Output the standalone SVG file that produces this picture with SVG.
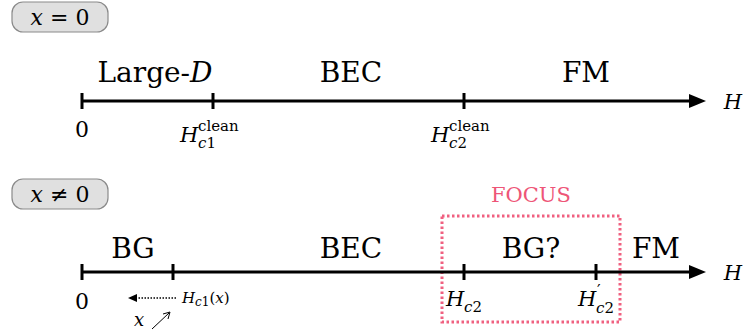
<svg xmlns="http://www.w3.org/2000/svg" width="746" height="336" viewBox="0 0 746 336" font-family="'DejaVu Serif','Liberation Serif','Noto Serif',serif">
<style>
text{font-family:"DejaVu Serif","Liberation Serif","Noto Serif",serif;fill:#000}
.big{font-size:28px}
.lab{font-size:21px;font-style:italic}
.ax{stroke:#000;stroke-width:3;fill:none}
.tick{stroke:#000;stroke-width:3}
.pill{fill:#e0e0e0;stroke:#8a8a8a;stroke-width:1.2}
.sup{font-size:15px;font-style:normal}
.sub{font-size:15px;font-style:italic}
</style>

<g id="label-x0">
<rect class="pill" x="12" y="2" width="96" height="30" rx="11"/>
<text x="60" y="25" font-size="22" text-anchor="middle"><tspan font-style="italic">x</tspan> = 0</text>
</g>

<g id="axis-top">
<line class="ax" x1="82" y1="101" x2="692" y2="101"/>
<path d="M689,94 L706,101 L689,108 z" fill="#000"/>
<line class="tick" x1="82" y1="93" x2="82" y2="109"/>
<line class="tick" x1="213" y1="93" x2="213" y2="109"/>
<line class="tick" x1="464" y1="93" x2="464" y2="109"/>
<text class="lab" x="733" y="109" text-anchor="middle">H</text>
<text x="82" y="137" font-size="22" text-anchor="middle">0</text>
<text x="180" y="142" font-size="21" font-style="italic">H<tspan class="sup" x="198" y="131">clean</tspan><tspan class="sub" x="198" y="148">c<tspan font-style="normal">1</tspan></tspan></text>
<text x="431" y="142" font-size="21" font-style="italic">H<tspan class="sup" x="449" y="131">clean</tspan><tspan class="sub" x="449" y="148">c<tspan font-style="normal">2</tspan></tspan></text>
<text class="big" x="155" y="82" text-anchor="middle">Large-<tspan font-style="italic">D</tspan></text>
<text class="big" x="351" y="82" text-anchor="middle">BEC</text>
<text class="big" x="586" y="82" text-anchor="middle">FM</text>
</g>

<g id="label-xne0">
<rect class="pill" x="12" y="179" width="96" height="30" rx="11"/>
<text x="60" y="202" font-size="22" text-anchor="middle"><tspan font-style="italic">x</tspan> ≠ 0</text>
</g>

<g id="focus">
<rect x="442" y="216" width="178" height="106" fill="none" stroke="#f06080" stroke-width="3" stroke-dasharray="2.5 2.5"/>
<text x="531" y="202" font-size="21" text-anchor="middle" style="fill:#ee5577">FOCUS</text>
</g>

<g id="axis-bottom">
<line class="ax" x1="82" y1="272" x2="692" y2="272"/>
<path d="M689,265 L706,272 L689,279 z" fill="#000"/>
<line class="tick" x1="82" y1="264" x2="82" y2="280"/>
<line class="tick" x1="173" y1="264" x2="173" y2="280"/>
<line class="tick" x1="464" y1="264" x2="464" y2="280"/>
<line class="tick" x1="596" y1="264" x2="596" y2="280"/>
<text class="lab" x="733" y="280" text-anchor="middle">H</text>
<text x="82" y="309" font-size="22" text-anchor="middle">0</text>
<text x="446" y="306" font-size="21" font-style="italic">H<tspan class="sub" x="464" y="312">c<tspan font-style="normal">2</tspan></tspan></text>
<text x="578" y="306" font-size="21" font-style="italic">H<tspan font-size="16" font-style="normal" x="597" y="296">′</tspan><tspan class="sub" x="596" y="313">c<tspan font-style="normal">2</tspan></tspan></text>
<text class="big" x="133" y="258" text-anchor="middle">BG</text>
<text class="big" x="351" y="258" text-anchor="middle">BEC</text>
<text class="big" x="531" y="258" text-anchor="middle">BG?</text>
<text class="big" x="656" y="258" text-anchor="middle">FM</text>
</g>

<g id="connectors">
<line x1="176" y1="298" x2="136" y2="298" stroke="#000" stroke-width="1.3" stroke-dasharray="1.5 1.5"/>
<path d="M137,294 L128,298 L137,302 z" fill="#000"/>
<line x1="152" y1="329" x2="169" y2="313" stroke="#000" stroke-width="1"/>
<path d="M170,312 L163,314 M170,312 L168,319" stroke="#000" stroke-width="1" fill="none"/>
</g>

<g id="hc1x">
<text x="182" y="303" font-size="15" font-style="italic">H<tspan font-size="12" dy="3">c<tspan font-style="normal">1</tspan></tspan><tspan dy="-3" font-style="normal">(</tspan>x<tspan font-style="normal">)</tspan></text>
<text x="134" y="326" font-size="18" font-style="italic">x</text>
</g>
</svg>
